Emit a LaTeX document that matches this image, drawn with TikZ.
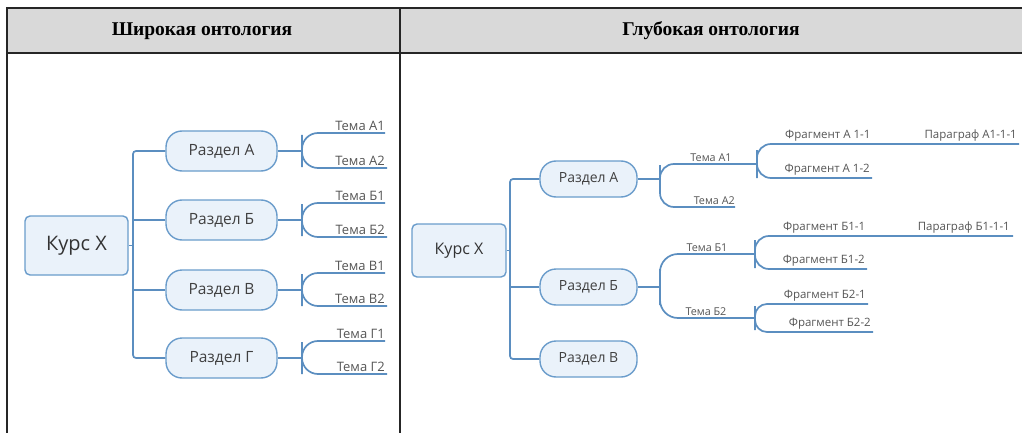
\documentclass[tikz,border=0pt]{standalone}
\usepackage{fontspec}
\setmainfont{Open Sans}
\newfontfamily\headfont{Liberation Serif}
\usetikzlibrary{positioning}

\definecolor{linkblue}{HTML}{5B8EC0}
\definecolor{boxedge}{HTML}{6A9CCB}
\definecolor{boxfill}{HTML}{EAF2FA}
\definecolor{headgray}{HTML}{D9D9D9}
\definecolor{labelgray}{HTML}{555555}

\begin{document}
\begin{tikzpicture}[
  x=1pt, y=-1pt,
  course/.style={draw=boxedge, fill=boxfill, line width=1.4pt, rounded corners=5pt, text=black!80, inner sep=0pt},
  section/.style={draw=boxedge, fill=boxfill, line width=1.4pt, rounded corners=16pt, text=black!75, inner sep=0pt},
  topic/.style={font=\fontsize{13}{15}\selectfont, text=labelgray, inner xsep=0pt, inner ysep=2.5pt},
  small/.style={font=\fontsize{10.8}{12}\selectfont, text=labelgray, inner xsep=0pt, inner ysep=2.5pt},
  fine/.style={font=\fontsize{11.5}{13}\selectfont, text=labelgray, inner xsep=0pt, inner ysep=2.5pt},
  link/.style={draw=linkblue, line width=1.7pt},
  fork/.style={link, rounded corners=16pt},
  header/.style={font=\headfont\bfseries\fontsize{19.5}{21}\selectfont},
]
\useasboundingbox (0,0) rectangle (1022,433);

  % Table frame
  \fill[headgray] (7,8) rectangle (1022,53);
  \draw[line width=1.4pt, black!85] (1022,8) -- (7,8) -- (7,433);
  \draw[line width=1.4pt, black!85] (7,53) -- (1022,53);
  \draw[line width=1.4pt, black!85] (400,8) -- (400,433);
  \node[header] (headL) at (202,31) {Широкая онтология};
  \node[header] (headR) at (711,31) {Глубокая онтология};

  % Wide ontology
  \node[course, minimum width=103, minimum height=59, font=\fontsize{20}{22}\selectfont] (kursL) at (76.5,245.5) {Курс X};
  \node[section, minimum width=111, minimum height=40, font=\fontsize{15.5}{17}\selectfont] (secLA) at (221.5,151) {Раздел А};
  \node[section, minimum width=111, minimum height=40, font=\fontsize{15.5}{17}\selectfont] (secLB) at (221.5,220) {Раздел Б};
  \node[section, minimum width=111, minimum height=40, font=\fontsize{15.5}{17}\selectfont] (secLV) at (221.5,290) {Раздел В};
  \node[section, minimum width=111, minimum height=40, font=\fontsize{15.5}{17}\selectfont] (secLG) at (221.5,358) {Раздел Г};

  \coordinate (trunkL) at (133,245.5);
  \draw[link, rounded corners=3pt] (secLA.west) -| (trunkL) |- (secLG.west);
  \draw[link] (kursL.east) -- (trunkL);
  \draw[link] (secLB.west) -- (secLB.west -| trunkL);
  \draw[link] (secLV.west) -- (secLV.west -| trunkL);

  % Topics, wide
  \node[topic, anchor=south east] (tLA1) at (385,133) {Тема А1};
  \node[topic, anchor=south east] (tLA2) at (385,168) {Тема А2};
  \node[topic, anchor=south east] (tLB1) at (385,203) {Тема Б1};
  \node[topic, anchor=south east] (tLB2) at (385,237) {Тема Б2};
  \node[topic, anchor=south east] (tLV1) at (385,273) {Тема В1};
  \node[topic, anchor=south east] (tLV2) at (385,306) {Тема В2};
  \node[topic, anchor=south east] (tLG1) at (385,341) {Тема Г1};
  \node[topic, anchor=south east] (tLG2) at (385,374) {Тема Г2};

  \coordinate (forkLA) at (302,151);
  \coordinate (forkLB) at (302,220);
  \coordinate (forkLV) at (302,290);
  \coordinate (forkLG) at (302,358);
  \draw[link] (secLA.east) -- (forkLA);
  \draw[link] (secLB.east) -- (forkLB);
  \draw[link] (secLV.east) -- (forkLV);
  \draw[link] (secLG.east) -- (forkLG);
  \draw[fork] (tLA1.south east) -- ++(2,0) -| (forkLA) |- ([xshift=2pt]tLA2.south east);
  \draw[fork] (tLB1.south east) -- ++(2,0) -| (forkLB) |- ([xshift=2pt]tLB2.south east);
  \draw[fork] (tLV1.south east) -- ++(2,0) -| (forkLV) |- ([xshift=2pt]tLV2.south east);
  \draw[fork] (tLG1.south east) -- ++(2,0) -| (forkLG) |- ([xshift=2pt]tLG2.south east);

  % Deep ontology
  \node[course, minimum width=94, minimum height=53, font=\fontsize{16}{18}\selectfont] (kursR) at (459,250.5) {Курс X};
  \node[section, minimum width=97, minimum height=36, font=\fontsize{14}{16}\selectfont] (secRA) at (588.5,179) {Раздел А};
  \node[section, minimum width=97, minimum height=36, font=\fontsize{14}{16}\selectfont] (secRB) at (588.5,287) {Раздел Б};
  \node[section, minimum width=97, minimum height=36, font=\fontsize{14}{16}\selectfont] (secRV) at (588.5,359) {Раздел В};

  \coordinate (trunkR) at (510,250.5);
  \draw[link, rounded corners=3pt] (secRA.west) -| (trunkR) |- (secRV.west);
  \draw[link] (kursR.east) -- (trunkR);
  \draw[link] (secRB.west) -- (secRB.west -| trunkR);

  % Topics, deep
  \coordinate (forkRA) at (660,179);
  \coordinate (forkRB) at (660,287);
  \coordinate (fragRA) at (757,164);
  \coordinate (fragRB1) at (755,254);
  \coordinate (fragRB2) at (755,318);
  \node[small, anchor=south] (tRA1) at (711,164) {Тема А1};
  \node[small, anchor=south east] (tRA2) at (735,207) {Тема А2};
  \node[small, anchor=south] (tRB1) at (707,254) {Тема Б1};
  \node[small, anchor=south] (tRB2) at (706,318) {Тема Б2};
  \draw[link] (secRA.east) -- (forkRA);
  \draw[link] (secRB.east) -- (forkRB);
  \draw[fork, rounded corners=14pt] (fragRA) -| (forkRA) |- (tRA2.south east);
  \draw[fork, rounded corners=18pt] (fragRB1) -| (forkRB) |- (fragRB2);

  % Fragments and paragraphs
  \node[fine, anchor=south west] (fgA11) at (785,144) {Фрагмент А 1-1};
  \node[fine, anchor=south east] (fgA12) at (870,178) {Фрагмент А 1-2};
  \node[fine, anchor=south east] (parA) at (1017,144) {Параграф А1-1-1};
  \node[fine, anchor=south west] (fgB11) at (783,236) {Фрагмент Б1-1};
  \node[fine, anchor=south east] (fgB12) at (865,269) {Фрагмент Б1-2};
  \node[fine, anchor=south east] (parB) at (1010,236) {Параграф Б1-1-1};
  \node[fine, anchor=south east] (fgB21) at (866,304) {Фрагмент Б2-1};
  \node[fine, anchor=south east] (fgB22) at (871,332) {Фрагмент Б2-2};
  \draw[fork, rounded corners=14pt] ([xshift=2pt]parA.south east) -| (fragRA) |- ([xshift=2pt]fgA12.south east);
  \draw[fork, rounded corners=14pt] ([xshift=3pt]parB.south east) -| (fragRB1) |- ([xshift=2pt]fgB12.south east);
  \draw[fork, rounded corners=12pt] ([xshift=2pt]fgB21.south east) -| (fragRB2) |- ([xshift=2pt]fgB22.south east);

\end{tikzpicture}
\end{document}
